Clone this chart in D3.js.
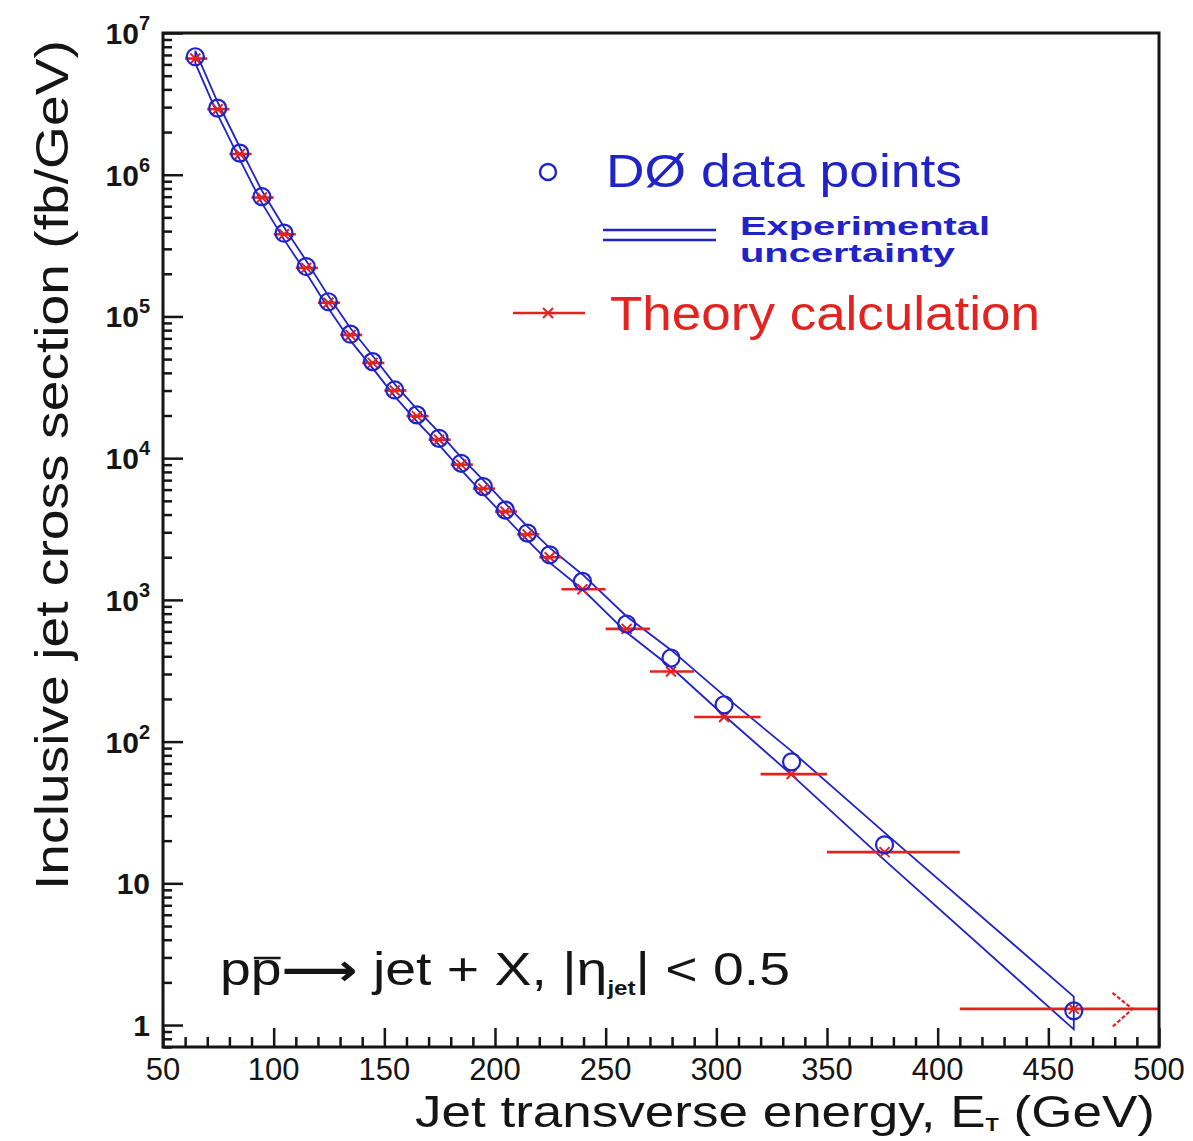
<!DOCTYPE html>
<html><head><meta charset="utf-8">
<script src="https://cdn.jsdelivr.net/npm/d3@7"></script>
<style>body{margin:0;background:#fff}svg{display:block}</style>
</head><body><svg id="c" width="1193" height="1141"></svg>
<script>
// ---- data ----
const etCenters   = [64.6, 74.7, 84.7, 94.7, 104.7, 114.7, 124.7, 134.7, 144.7, 154.7, 164.7, 174.7, 184.7, 194.7, 204.7, 214.7, 224.7, 239.5, 259.5, 279.5, 303.5, 334, 376, 461.5];
const binLow      = [60, 70, 80, 90, 100, 110, 120, 130, 140, 150, 160, 170, 180, 190, 200, 210, 220, 230, 250, 270, 290, 320, 350, 410];
const binHigh     = [70, 80, 90, 100, 110, 120, 130, 140, 150, 160, 170, 180, 190, 200, 210, 220, 230, 250, 270, 290, 320, 350, 410, 500];
const dataValues  = [6.8e6, 2.95e6, 1.42e6, 7.0e5, 3.87e5, 2.25e5, 1.27e5, 7.5e4, 4.8e4, 3.03e4, 2.02e4, 1.38e4, 9.2e3, 6.3e3, 4.3e3, 2.96e3, 2.08e3, 1350, 676, 389, 182, 72, 18.7, 1.26];
const theoryValues= [6.6e6, 2.9e6, 1.4e6, 6.9e5, 3.8e5, 2.2e5, 1.25e5, 7.4e4, 4.7e4, 3.0e4, 1.98e4, 1.35e4, 9.0e3, 6.1e3, 4.2e3, 2.9e3, 2.0e3, 1190, 624, 312, 149, 59, 16.6, 1.30];
const errPct      = [10, 10, 10, 10, 10, 10, 10, 10, 10, 10, 10, 10, 10, 11, 11, 11, 12, 12, 13, 14, 16, 19, 22, 26];
const xTickLabels = ["50","100","150","200","250","300","350","400","450","500"];
const yTickExponents = [0,1,2,3,4,5,6,7];
const arrowET = 488;

// ---- layout ----
const X0=163, X1=1159, Y0=33, Y1=1047;
const svg = d3.select("#c");
const FONT = "'Liberation Sans', Arial, Helvetica, sans-serif";
const BLUE = "#1f23c8", RED = "#e3231f", INK = "#151515";

const x = d3.scaleLinear().domain([50,500]).range([X0,X1]);
const y = d3.scaleLog().domain([0.7,1e7]).range([Y1,Y0]);

svg.append("rect").attr("width",1193).attr("height",1141).attr("fill","#fff");

// ---- ticks via axes ----
const xMajor = d3.range(50,501,50);
const xMinor = x.ticks(45).filter(v => v % 50 !== 0);
const gx1 = svg.append("g").attr("transform",`translate(0,${Y1})`)
  .call(d3.axisBottom(x).tickValues(xMajor).tickSize(-19).tickFormat(""));
const gx2 = svg.append("g").attr("transform",`translate(0,${Y1})`)
  .call(d3.axisBottom(x).tickValues(xMinor).tickSize(-10).tickFormat(""));
const yAll = y.ticks().filter(v => v >= 0.7 && v <= 1e7);
const yMajor = yTickExponents.map(k => Math.pow(10,k));
const yMinor = yAll.filter(v => Math.abs(Math.log10(v) - Math.round(Math.log10(v))) > 1e-6);
const gy1 = svg.append("g").attr("transform",`translate(${X0},0)`)
  .call(d3.axisLeft(y).tickValues(yMajor).tickSize(-20).tickFormat(""));
const gy2 = svg.append("g").attr("transform",`translate(${X0},0)`)
  .call(d3.axisLeft(y).tickValues(yMinor).tickSize(-9).tickFormat(""));
[gx1,gx2,gy1,gy2].forEach(g => {
  g.select(".domain").remove();
  g.selectAll("line").attr("stroke",INK).attr("stroke-width",2.5);
});

// x tick labels
svg.append("g").selectAll("text").data(xMajor).join("text")
  .attr("x", d => x(d)).attr("y", 1080)
  .attr("text-anchor","middle").attr("font-family",FONT).attr("font-size",31)
  .attr("fill",INK).text((d,i) => xTickLabels[i]);

// y tick labels
yTickExponents.forEach(k => {
  const t = svg.append("text").attr("x",150).attr("y", y(Math.pow(10,k)) + 11)
    .attr("text-anchor","end").attr("font-family",FONT).attr("font-size",30)
    .attr("font-weight","bold").attr("fill",INK);
  if (k === 0) t.text("1");
  else if (k === 1) t.text("10");
  else {
    t.append("tspan").text("10");
    t.append("tspan").attr("font-size",20).attr("dy",-14).text(String(k));
  }
});

// ---- experimental uncertainty band ----
const upper = etCenters.map((e,i) => [x(e), y(dataValues[i]*(1+errPct[i]/100))]);
const lower = etCenters.map((e,i) => [x(e), y(dataValues[i]*(1-errPct[i]/100))]);
const line = d3.line();
svg.append("path").attr("d", line(upper.concat(lower.slice().reverse())) + "Z")
  .attr("fill","none").attr("stroke",BLUE).attr("stroke-width",1.8);

// ---- theory ----
const th = svg.append("g");
th.selectAll("line.bar").data(etCenters).join("line").attr("class","bar")
  .attr("x1",(d,i)=>x(binLow[i])).attr("x2",(d,i)=>x(binHigh[i]))
  .attr("y1",(d,i)=>y(theoryValues[i])).attr("y2",(d,i)=>y(theoryValues[i]))
  .attr("stroke",RED).attr("stroke-width",2.6);
const xm = 5;
th.selectAll("path.mk").data(etCenters).join("path").attr("class","mk")
  .attr("d",(d,i)=>{const cx=x(d), cy=y(theoryValues[i]);
    return `M${cx-xm},${cy-xm}L${cx+xm},${cy+xm}M${cx-xm},${cy+xm}L${cx+xm},${cy-xm}`;})
  .attr("stroke",RED).attr("stroke-width",2);
// arrow on the last bin
{
  const last = theoryValues.length-1;
  const ax = x(arrowET), ay = y(theoryValues[last]);
  th.append("path").attr("d",`M${ax-20},${ay-16}L${ax},${ay}L${ax-20},${ay+18}`)
    .attr("fill","none").attr("stroke",RED).attr("stroke-width",2.2).attr("stroke-dasharray","4,2");
}

// ---- data points ----
svg.append("g").selectAll("circle").data(etCenters).join("circle")
  .attr("cx",d=>x(d)).attr("cy",(d,i)=>y(dataValues[i])).attr("r",8.5)
  .attr("fill","none").attr("stroke",BLUE).attr("stroke-width",2.2);

// ---- frame ----
svg.append("rect").attr("x",X0).attr("y",Y0).attr("width",X1-X0).attr("height",Y1-Y0)
  .attr("fill","none").attr("stroke",INK).attr("stroke-width",3);

// ---- legend ----
svg.append("circle").attr("cx",548).attr("cy",172).attr("r",8).attr("fill","none")
  .attr("stroke",BLUE).attr("stroke-width",2.4);
svg.append("text").attr("x",606).attr("y",187).attr("font-family",FONT).attr("font-size",46)
  .attr("fill",BLUE).attr("textLength",356).attr("lengthAdjust","spacingAndGlyphs").text("DØ data points");
[230,240].forEach(yy => svg.append("line").attr("x1",603).attr("x2",716).attr("y1",yy).attr("y2",yy)
  .attr("stroke",BLUE).attr("stroke-width",2.6));
svg.append("text").attr("x",740).attr("y",235).attr("font-family",FONT).attr("font-size",26)
  .attr("font-weight","bold").attr("fill",BLUE).attr("textLength",250).attr("lengthAdjust","spacingAndGlyphs").text("Experimental");
svg.append("text").attr("x",740).attr("y",262).attr("font-family",FONT).attr("font-size",26)
  .attr("font-weight","bold").attr("fill",BLUE).attr("textLength",215).attr("lengthAdjust","spacingAndGlyphs").text("uncertainty");
svg.append("line").attr("x1",513).attr("x2",585).attr("y1",313).attr("y2",313).attr("stroke",RED).attr("stroke-width",2.6);
svg.append("path").attr("d","M543,308L553,318M543,318L553,308").attr("stroke",RED).attr("stroke-width",2);
svg.append("text").attr("x",610).attr("y",330).attr("font-family",FONT).attr("font-size",48)
  .attr("fill",RED).attr("textLength",430).attr("lengthAdjust","spacingAndGlyphs").text("Theory calculation");

// ---- annotation ----
const ann = svg.append("text").attr("x",220).attr("y",985).attr("font-family",FONT)
  .attr("font-size",46).attr("fill",INK)
  .attr("textLength",570).attr("lengthAdjust","spacingAndGlyphs");
ann.append("tspan").text("pp");
ann.append("tspan").attr("font-family","'DejaVu Sans'").attr("font-weight","bold").attr("font-size",44).text("⟶");
ann.append("tspan").text(" jet + X, |η");
ann.append("tspan").attr("font-size",20).attr("font-weight","bold").attr("dy",10).text("jet");
ann.append("tspan").attr("dy",-10).text("| < 0.5");
{
  const ext = ann.node().getExtentOfChar(1);
  svg.append("line").attr("x1",ext.x+3).attr("x2",ext.x+ext.width-1)
    .attr("y1",958).attr("y2",958).attr("stroke",INK).attr("stroke-width",2.5);
}

// ---- axis titles ----
const xt = svg.append("text").attr("x",415).attr("y",1127).attr("font-family",FONT)
  .attr("font-size",44).attr("fill",INK)
  .attr("textLength",740).attr("lengthAdjust","spacingAndGlyphs");
xt.append("tspan").text("Jet transverse energy, E");
xt.append("tspan").attr("font-size",18).attr("font-weight","bold").attr("dy",4).text("T");
xt.append("tspan").attr("dy",-4).text(" (GeV)");

svg.append("text").attr("transform","translate(68,465) rotate(-90)")
  .attr("text-anchor","middle").attr("font-family",FONT).attr("font-size",46).attr("fill",INK)
  .attr("textLength",850).attr("lengthAdjust","spacingAndGlyphs")
  .text("Inclusive jet cross section (fb/GeV)");
</script>
</body></html>
